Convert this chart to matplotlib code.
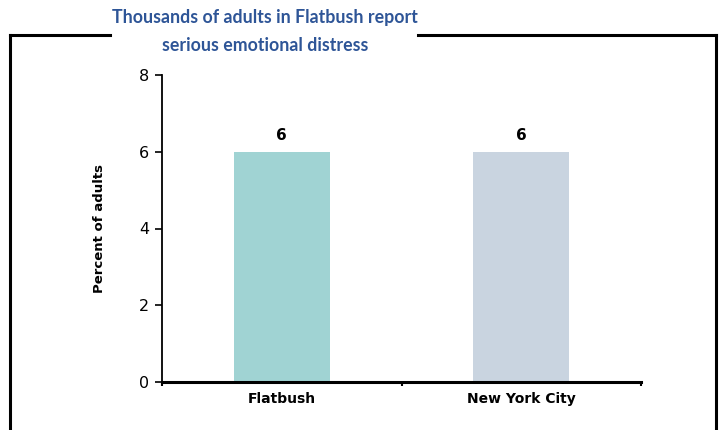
import matplotlib
matplotlib.use("Agg")
import matplotlib.pyplot as plt
from matplotlib.lines import Line2D

categories = ["Flatbush", "New York City"]
values = [6, 6]
labels = ["6", "6"]
colors = ["#a0d3d3", "#c9d4e0"]
yticks = [0, 2, 4, 6, 8]
title = "Thousands of adults in Flatbush report\nserious emotional distress"
ylabel = "Percent of adults"

plt.rcParams['font.family'] = ['DejaVu Sans']

W, H = 726, 430
fig = plt.figure(figsize=(W / 100, H / 100), dpi=100)
ax = fig.add_axes([162 / W, 1 - 382 / H, (641 - 162) / W, (382 - 75) / H])

x = list(range(len(categories)))
ax.bar(x, values, width=0.4, color=colors, zorder=2)
for xi, v, lab in zip(x, values, labels):
    ax.annotate(lab, (xi, v), xytext=(0, 6), textcoords="offset points",
                ha="center", va="bottom", fontsize=11, fontweight="bold")

ax.set_xlim(-0.5, len(categories) - 0.5)
ax.set_ylim(0, 8)
ax.set_yticks(yticks)
ax.set_yticklabels([str(t) for t in yticks], fontsize=11.5)
ax.set_xticks(x)
ax.set_xticklabels(categories, fontsize=10, fontweight="bold")
ax.tick_params(axis="x", length=0, pad=7)
ax.set_xticks([i - 0.5 for i in range(len(categories) + 1)], minor=True)
ax.tick_params(axis="x", which="minor", length=3, width=1.5, direction="out")
ax.tick_params(axis="y", length=5, width=1.2, pad=4)
ax.spines["top"].set_visible(False)
ax.spines["right"].set_visible(False)
ax.spines["left"].set_linewidth(1.3)
ax.spines["bottom"].set_linewidth(2.2)
ax.set_ylabel(ylabel, fontsize=9.5, fontweight="bold", labelpad=24)

fig.text(265 / W, 1 - 31.5 / H, title, ha="center", va="center", fontsize=12.8,
         fontweight="bold", color="#2e5597", linespacing=1.75,
         family=["Lato", "DejaVu Sans"])

# frame around the chart, broken at the title
lw = 2.2
fy = 1 - 35 / H
fig.add_artist(Line2D([10 / W, 10 / W], [0, fy], color="black", lw=lw, transform=fig.transFigure))
fig.add_artist(Line2D([716 / W, 716 / W], [0, fy], color="black", lw=lw, transform=fig.transFigure))
fig.add_artist(Line2D([10 / W, 110 / W], [fy, fy], color="black", lw=lw, transform=fig.transFigure))
fig.add_artist(Line2D([418 / W, 716 / W], [fy, fy], color="black", lw=lw, transform=fig.transFigure))

fig.savefig("out.png", dpi=100)
